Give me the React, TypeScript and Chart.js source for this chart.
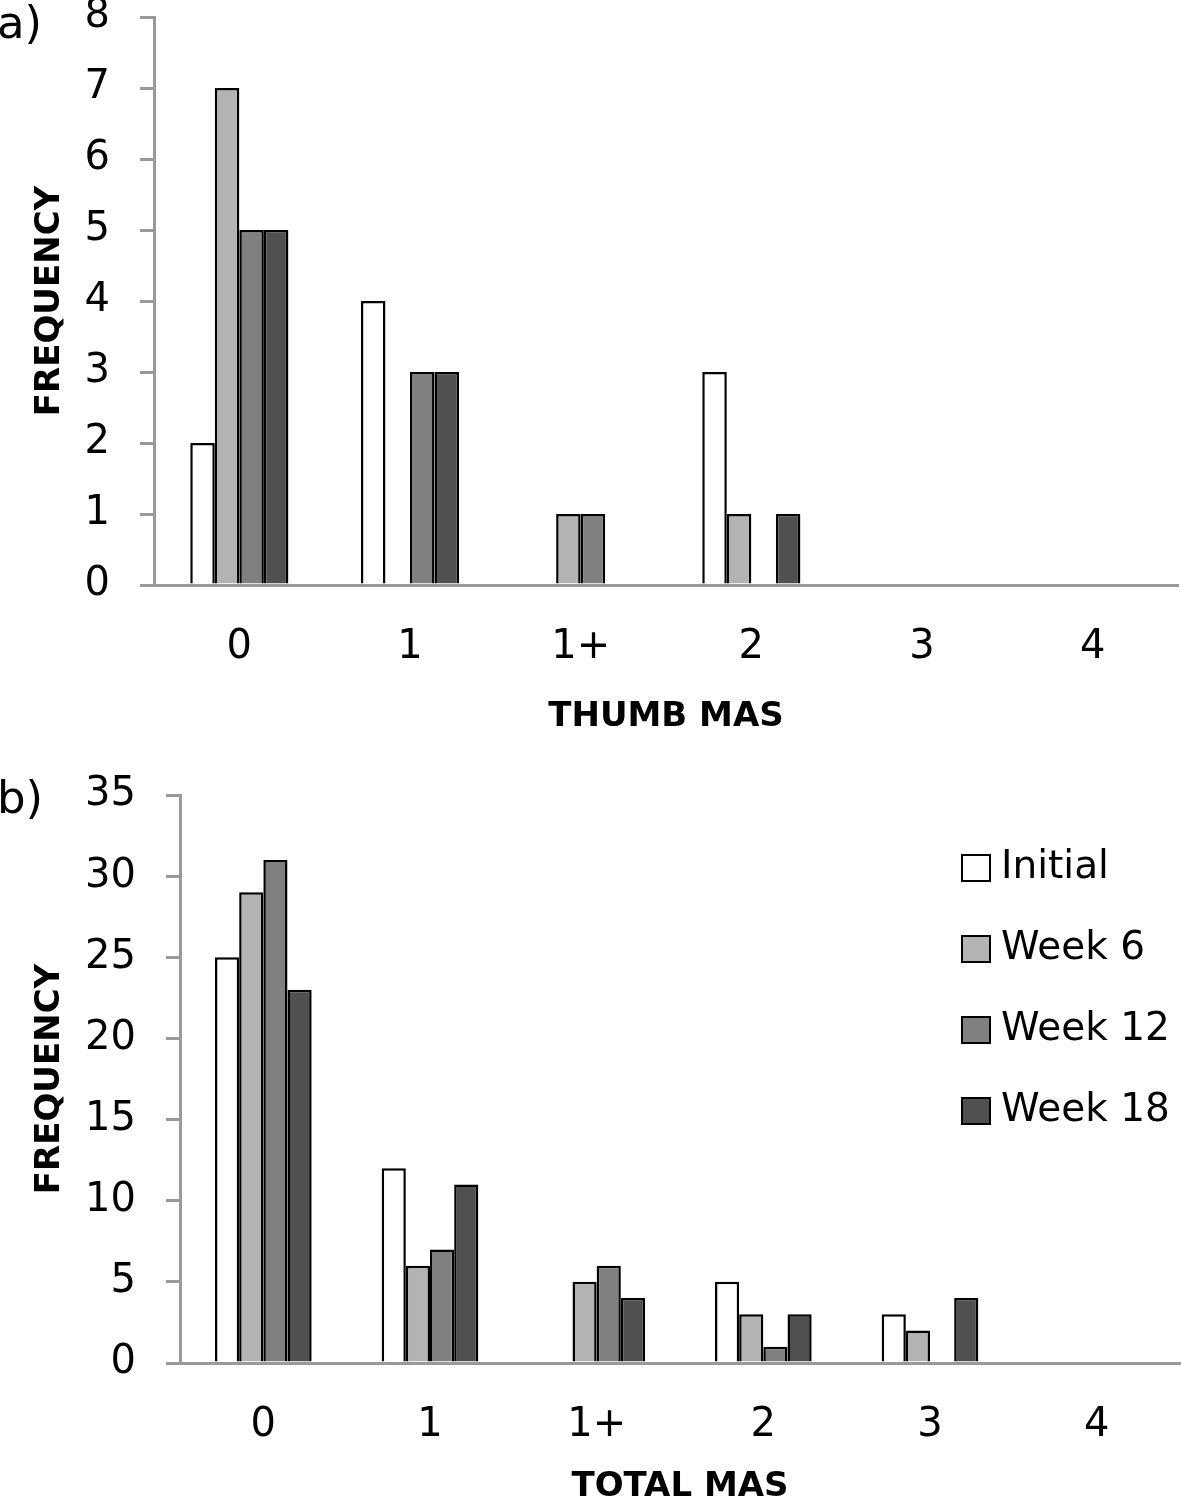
import React, { useEffect, useRef } from 'react';
import { Chart, registerables } from 'chart.js';

Chart.register(...registerables);

// ---------- data ----------
const categories = ['0', '1', '1+', '2', '3', '4'];
const seriesNames = ['Initial', 'Week 6', 'Week 12', 'Week 18'];
const seriesColors = ['#ffffff', '#b3b3b3', '#808080', '#505050'];

const thumbInitial = [2, 4, 0, 3, 0, 0];
const thumbWeek6 = [7, 0, 1, 1, 0, 0];
const thumbWeek12 = [5, 3, 1, 0, 0, 0];
const thumbWeek18 = [5, 3, 0, 1, 0, 0];

const totalInitial = [25, 12, 0, 5, 3, 0];
const totalWeek6 = [29, 6, 5, 3, 2, 0];
const totalWeek12 = [31, 7, 6, 1, 0, 0];
const totalWeek18 = [23, 11, 4, 3, 4, 0];

const thumbYMax = 8;
const thumbYStep = 1;
const totalYMax = 35;
const totalYStep = 5;

const FONT = "'DejaVu Sans', sans-serif";
const AXIS_GRAY = '#9a9a9a';

const sideLegend = {
  id: 'sideLegend',
  afterDraw(chart: any, _args: any, opts: any) {
    if (!opts || !opts.show) return;
    const ctx = chart.ctx;
    ctx.save();
    chart.data.datasets.forEach((ds: any, i: number) => {
      const cy = opts.ys[i];
      ctx.fillStyle = ds.backgroundColor;
      ctx.fillRect(opts.x, cy - opts.boxH / 2, opts.boxW, opts.boxH);
      ctx.lineWidth = 2;
      ctx.strokeStyle = '#000';
      ctx.strokeRect(opts.x, cy - opts.boxH / 2, opts.boxW, opts.boxH);
      ctx.fillStyle = '#000';
      ctx.font = `${opts.fontSize}px ${FONT}`;
      ctx.textBaseline = 'middle';
      ctx.textAlign = 'left';
      ctx.fillText(ds.label, opts.textX, cy);
    });
    ctx.restore();
  },
};

type PanelProps = {
  height: number;
  series: number[][];
  yMax: number;
  yStep: number;
  yWidth: number;
  xHeight: number;
  padTop: number;
  padRight: number;
  xTitle: string;
  xTitlePadBottom: number;
  catPct: number;
  legend?: any;
};

function BarPanel(p: PanelProps) {
  const ref = useRef<HTMLCanvasElement | null>(null);
  useEffect(() => {
    if (!ref.current) return;
    const chart = new Chart(ref.current, {
      type: 'bar',
      data: {
        labels: categories,
        datasets: p.series.map((vals, i) => ({
          label: seriesNames[i],
          data: vals,
          backgroundColor: seriesColors[i],
          borderColor: '#000',
          borderWidth: 2.5,
          categoryPercentage: p.catPct,
          barPercentage: 1,
        })),
      },
      options: {
        responsive: false,
        animation: false,
        devicePixelRatio: 1,
        layout: { padding: { top: p.padTop, right: p.padRight, left: 0, bottom: 0 } },
        plugins: {
          legend: { display: false },
          tooltip: { enabled: false },
          sideLegend: p.legend || { show: false },
        } as any,
        scales: {
          x: {
            grid: { display: false },
            border: { display: true, color: AXIS_GRAY, width: 3 },
            ticks: { font: { family: FONT, size: 40 }, color: '#000', padding: 31, maxRotation: 0 },
            title: {
              display: true,
              text: p.xTitle,
              color: '#000',
              font: { family: FONT, size: 34, weight: 'bold' },
              padding: { top: 0, bottom: p.xTitlePadBottom },
            },
            afterFit(scale: any) {
              scale.height = p.xHeight;
              scale.paddingLeft = 0;
              scale.paddingRight = 0;
            },
          },
          y: {
            min: 0,
            max: p.yMax,
            grid: {
              display: true,
              drawOnChartArea: false,
              drawTicks: true,
              tickLength: 14,
              color: AXIS_GRAY,
              lineWidth: 3,
            },
            border: { display: true, color: AXIS_GRAY, width: 3 },
            ticks: { stepSize: p.yStep, font: { family: FONT, size: 40 }, color: '#000', padding: 30 },
            title: {
              display: true,
              text: 'FREQUENCY',
              color: '#000',
              font: { family: FONT, size: 34, weight: 'bold' },
              padding: { top: 30, bottom: 0 },
            },
            afterFit(scale: any) {
              scale.width = p.yWidth;
              scale.paddingTop = 0;
              scale.paddingBottom = 0;
            },
          },
        },
      } as any,
      plugins: [sideLegend as any],
    });
    return () => chart.destroy();
  }, []);
  return <canvas ref={ref} width={1181} height={p.height} style={{ display: 'block' }} />;
}

const labelStyle: React.CSSProperties = {
  position: 'absolute',
  left: -3,
  fontFamily: FONT,
  fontSize: 45,
  lineHeight: '45px',
  color: '#000',
};

export default function App() {
  return (
    <div style={{ position: 'absolute', left: 0, top: 0, width: 1181, height: 1508, background: '#fff', overflow: 'hidden' }}>
      <div style={{ position: 'absolute', left: 0, top: 0 }}>
        <BarPanel
          height={750}
          series={[thumbInitial, thumbWeek6, thumbWeek12, thumbWeek18]}
          yMax={thumbYMax}
          yStep={thumbYStep}
          yWidth={154}
          xHeight={165}
          padTop={17}
          padRight={3}
          xTitle="THUMB MAS"
          xTitlePadBottom={12}
          catPct={0.575}
        />
      </div>
      <div style={{ position: 'absolute', left: 0, top: 750 }}>
        <BarPanel
          height={758}
          series={[totalInitial, totalWeek6, totalWeek12, totalWeek18]}
          yMax={totalYMax}
          yStep={totalYStep}
          yWidth={180}
          xHeight={145}
          padTop={45}
          padRight={1}
          xTitle="TOTAL MAS"
          xTitlePadBottom={0}
          catPct={0.58}
          legend={{ show: true, x: 962, boxW: 28, boxH: 26, textX: 1001, fontSize: 39, ys: [118, 199, 280, 361] }}
        />
      </div>
      <div style={{ ...labelStyle, top: 0 }}>a)</div>
      <div style={{ ...labelStyle, top: 775 }}>b)</div>
    </div>
  );
}
